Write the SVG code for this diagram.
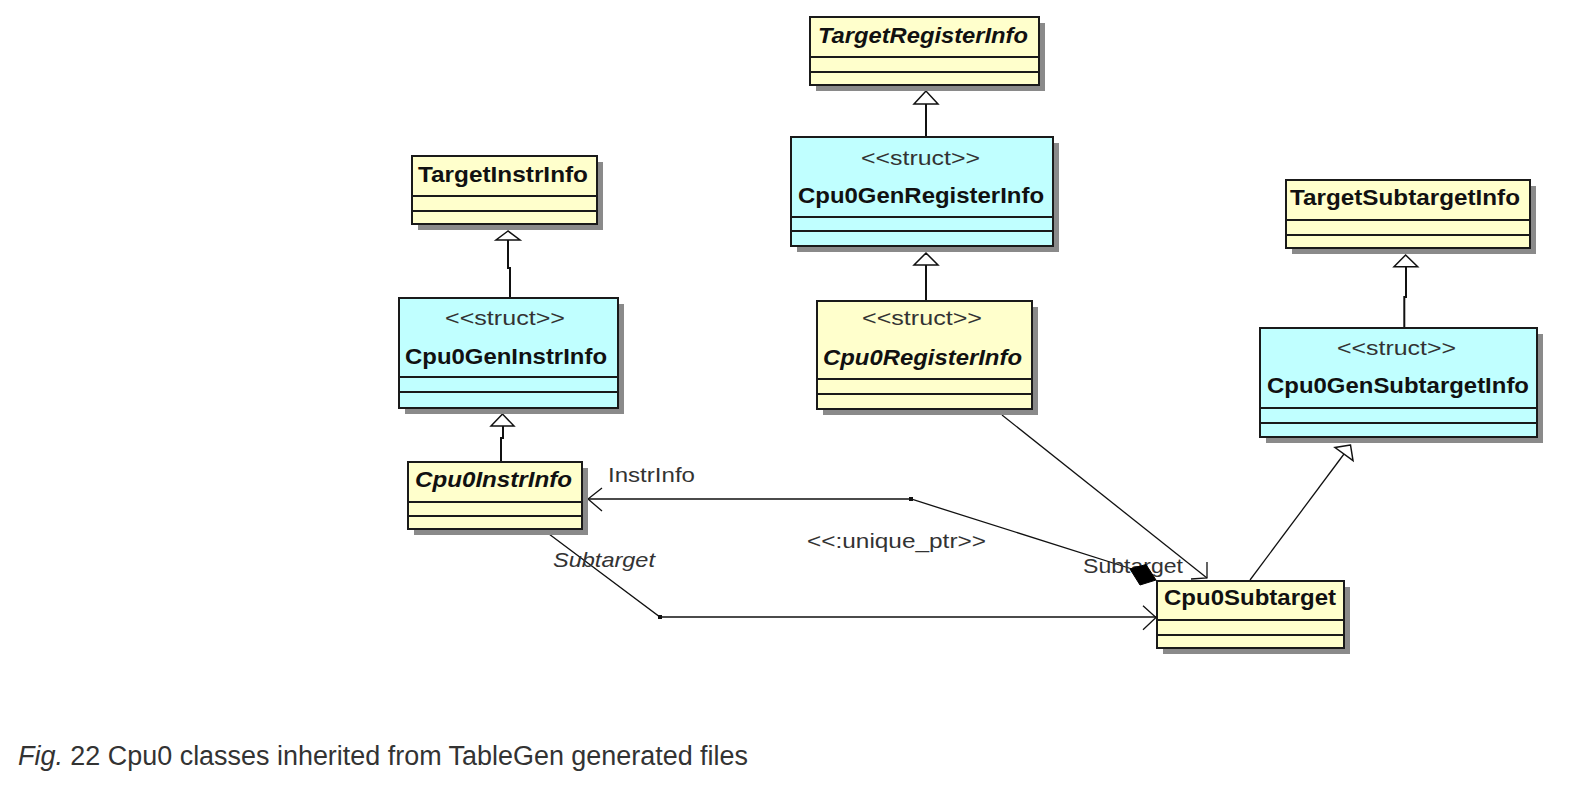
<svg xmlns="http://www.w3.org/2000/svg" width="1586" height="794" viewBox="0 0 1586 794">
<style>
.shadow{fill:#8a8a8a;stroke:none}
.yel{fill:#ffffcc;stroke:#1a1a1a;stroke-width:2}
.cyan{fill:#c0ffff;stroke:#1a1a1a;stroke-width:2}
.div{stroke:#1a1a1a;stroke-width:2;fill:none}
.name{font-family:"Liberation Sans",Arial,sans-serif;font-size:21.5px;font-weight:bold;fill:#111}
.ital{font-style:italic}
.stereo{font-family:"Liberation Sans",Arial,sans-serif;font-size:21px;fill:#333}
.lbl{font-family:"Liberation Sans",Arial,sans-serif;font-size:21px;fill:#333}
.ln{stroke:#111;stroke-width:1.3;fill:none}
.inh{stroke:#111;stroke-width:2;fill:none}
.tri{fill:#fff;stroke:#111;stroke-width:1.5}
.cap{font-family:"Liberation Sans",Arial,sans-serif;font-size:27px;fill:#333}
</style>
<rect width="1586" height="794" fill="#fff"/>

<g id="connectors">
  <!-- inheritance: Cpu0GenInstrInfo -> TargetInstrInfo -->
  <polyline class="inh" points="508,240 508,268 510,268 510,298"/>
  <polygon class="tri" points="508,231 496,240 520,240"/>
  <!-- inheritance: Cpu0InstrInfo -> Cpu0GenInstrInfo -->
  <polyline class="inh" points="503,426 503,438 501,438 501,462"/>
  <polygon class="tri" points="502.5,414 491,426 514,426"/>
  <!-- inheritance: Cpu0GenRegisterInfo -> TargetRegisterInfo -->
  <line class="inh" x1="926" y1="104" x2="926" y2="137"/>
  <polygon class="tri" points="926,91 914,104 938,104"/>
  <!-- inheritance: Cpu0RegisterInfo -> Cpu0GenRegisterInfo -->
  <line class="inh" x1="926" y1="265" x2="926" y2="301"/>
  <polygon class="tri" points="926,253 914,265 938,265"/>
  <!-- inheritance: Cpu0GenSubtargetInfo -> TargetSubtargetInfo -->
  <polyline class="inh" points="1406,267 1406,297 1404.3,297 1404.3,328"/>
  <polygon class="tri" points="1405.6,255 1394,266.7 1417.7,266.7"/>
  <!-- inheritance: Cpu0Subtarget -> Cpu0GenSubtargetInfo -->
  <line class="ln" x1="1250" y1="580" x2="1344" y2="454"/>
  <polygon class="tri" points="1350.5,445 1335,447.5 1353,460.5"/>

  <!-- InstrInfo association (composition from Cpu0Subtarget) -->
  <polyline class="ln" points="1132,569 911,499 583,499"/>
  <rect x="909" y="497" width="4" height="4" fill="#111"/>
  <polyline class="ln" points="602,488 588,499 602,511"/>

  <!-- Subtarget association from Cpu0InstrInfo -->
  <polyline class="ln" points="549,534 660,617 1156,617"/>
  <rect x="658" y="615" width="4" height="4" fill="#111"/>
  <polyline class="ln" points="1143,605.7 1156,617.5 1143,629.7"/>

  <!-- Cpu0RegisterInfo -> Cpu0Subtarget -->
  <line class="ln" x1="1002" y1="415" x2="1207" y2="578"/>
  <polyline class="ln" points="1207,562 1207,578 1191,579"/>

  <text class="lbl" x="608" y="482" textLength="87" lengthAdjust="spacingAndGlyphs">InstrInfo</text>
  <text class="lbl" x="807" y="548" textLength="179" lengthAdjust="spacingAndGlyphs">&lt;&lt;:unique_ptr&gt;&gt;</text>
  <text class="lbl ital" x="553" y="567" textLength="102" lengthAdjust="spacingAndGlyphs">Subtarget</text>
  <text class="lbl" x="1083" y="573" textLength="100" lengthAdjust="spacingAndGlyphs">Subtarget</text>
  <polygon points="1156,580 1146,564.5 1130,569 1140,585" fill="#000" stroke="#000" stroke-width="1"/>
</g>

<g id="TargetInstrInfo">
  <rect class="shadow" x="418" y="162" width="185" height="68"/>
  <rect class="yel" x="412" y="156" width="185" height="68"/>
  <line class="div" x1="412" y1="196" x2="597" y2="196"/>
  <line class="div" x1="412" y1="211" x2="597" y2="211"/>
  <text class="name" x="418" y="182" textLength="170" lengthAdjust="spacingAndGlyphs">TargetInstrInfo</text>
</g>

<g id="Cpu0GenInstrInfo">
  <rect class="shadow" x="405" y="304" width="219" height="110"/>
  <rect class="cyan" x="399" y="298" width="219" height="110"/>
  <line class="div" x1="399" y1="377" x2="618" y2="377"/>
  <line class="div" x1="399" y1="392" x2="618" y2="392"/>
  <text class="stereo" x="445" y="325" textLength="120" lengthAdjust="spacingAndGlyphs">&lt;&lt;struct&gt;&gt;</text>
  <text class="name" x="405" y="364" textLength="202" lengthAdjust="spacingAndGlyphs">Cpu0GenInstrInfo</text>
</g>

<g id="Cpu0InstrInfo">
  <rect class="shadow" x="414" y="468" width="174" height="67"/>
  <rect class="yel" x="408" y="462" width="174" height="67"/>
  <line class="div" x1="408" y1="502" x2="582" y2="502"/>
  <line class="div" x1="408" y1="516" x2="582" y2="516"/>
  <text class="name ital" x="415" y="487" textLength="157" lengthAdjust="spacingAndGlyphs">Cpu0InstrInfo</text>
</g>

<g id="TargetRegisterInfo">
  <rect class="shadow" x="816" y="23" width="229" height="68"/>
  <rect class="yel" x="810" y="17" width="229" height="68"/>
  <line class="div" x1="810" y1="57" x2="1039" y2="57"/>
  <line class="div" x1="810" y1="72" x2="1039" y2="72"/>
  <text class="name ital" x="818" y="43" textLength="210" lengthAdjust="spacingAndGlyphs">TargetRegisterInfo</text>
</g>

<g id="Cpu0GenRegisterInfo">
  <rect class="shadow" x="797" y="143" width="262" height="109"/>
  <rect class="cyan" x="791" y="137" width="262" height="109"/>
  <line class="div" x1="791" y1="217" x2="1053" y2="217"/>
  <line class="div" x1="791" y1="231" x2="1053" y2="231"/>
  <text class="stereo" x="861" y="165" textLength="119" lengthAdjust="spacingAndGlyphs">&lt;&lt;struct&gt;&gt;</text>
  <text class="name" x="798" y="203" textLength="246" lengthAdjust="spacingAndGlyphs">Cpu0GenRegisterInfo</text>
</g>

<g id="Cpu0RegisterInfo">
  <rect class="shadow" x="823" y="307" width="215" height="108"/>
  <rect class="yel" x="817" y="301" width="215" height="108"/>
  <line class="div" x1="817" y1="379" x2="1032" y2="379"/>
  <line class="div" x1="817" y1="394" x2="1032" y2="394"/>
  <text class="stereo" x="862" y="325" textLength="120" lengthAdjust="spacingAndGlyphs">&lt;&lt;struct&gt;&gt;</text>
  <text class="name ital" x="823" y="365" textLength="199" lengthAdjust="spacingAndGlyphs">Cpu0RegisterInfo</text>
</g>

<g id="TargetSubtargetInfo">
  <rect class="shadow" x="1292" y="186" width="244" height="68"/>
  <rect class="yel" x="1286" y="180" width="244" height="68"/>
  <line class="div" x1="1286" y1="220" x2="1530" y2="220"/>
  <line class="div" x1="1286" y1="235" x2="1530" y2="235"/>
  <text class="name" x="1290" y="205" textLength="230" lengthAdjust="spacingAndGlyphs">TargetSubtargetInfo</text>
</g>

<g id="Cpu0GenSubtargetInfo">
  <rect class="shadow" x="1266" y="334" width="277" height="109"/>
  <rect class="cyan" x="1260" y="328" width="277" height="109"/>
  <line class="div" x1="1260" y1="408" x2="1537" y2="408"/>
  <line class="div" x1="1260" y1="423" x2="1537" y2="423"/>
  <text class="stereo" x="1337" y="355" textLength="119" lengthAdjust="spacingAndGlyphs">&lt;&lt;struct&gt;&gt;</text>
  <text class="name" x="1267" y="393" textLength="262" lengthAdjust="spacingAndGlyphs">Cpu0GenSubtargetInfo</text>
</g>

<g id="Cpu0Subtarget">
  <rect class="shadow" x="1163" y="587" width="187" height="67"/>
  <rect class="yel" x="1157" y="581" width="187" height="67"/>
  <line class="div" x1="1157" y1="620" x2="1344" y2="620"/>
  <line class="div" x1="1157" y1="635" x2="1344" y2="635"/>
  <text class="name" x="1164" y="605" textLength="172" lengthAdjust="spacingAndGlyphs">Cpu0Subtarget</text>
</g>

<text class="cap" x="18" y="765" textLength="730" lengthAdjust="spacingAndGlyphs"><tspan font-style="italic">Fig.</tspan> 22 Cpu0 classes inherited from TableGen generated files</text>
</svg>
